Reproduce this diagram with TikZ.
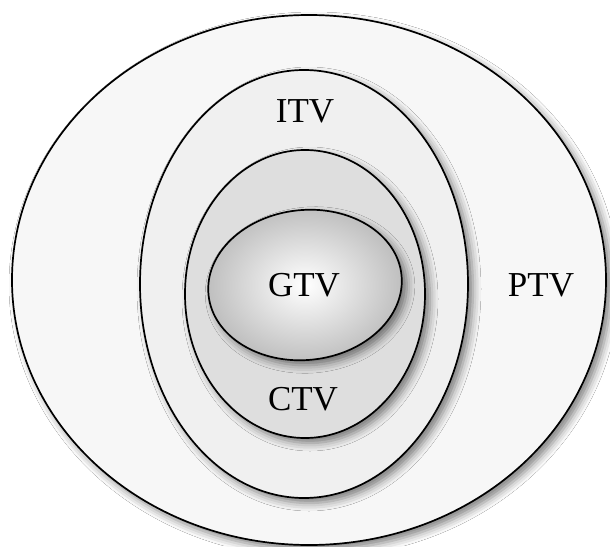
\documentclass[tikz,border=0pt]{standalone}
\usepackage{fontspec}
\setmainfont{Liberation Serif}
\usetikzlibrary{shapes.geometric,shadows.blur}
\begin{document}
\begin{tikzpicture}[x=1pt,y=-1pt,
  vol/.style={ellipse, draw=black, line width=1.7pt, inner sep=0pt, outer sep=0pt,
    blur shadow={shadow xshift=5pt, shadow yshift=-5pt, shadow blur radius=8pt, shadow opacity=50}},
  lbl/.style={font=\fontsize{35}{35}\selectfont, text=black, inner sep=0pt}]
\useasboundingbox (0,0) rectangle (610,546);
\fill[white] (0,0) rectangle (610,546);
\node[vol, fill=black!3, minimum width=594pt, minimum height=530pt] (ptv) at (309,280) {};
\node[vol, fill=black!6, minimum width=328pt, minimum height=428pt] (itv) at (304,284) {};
\node[vol, fill=black!13, minimum width=240pt, minimum height=288pt] (ctv) at (305,294) {};
\node[vol, shading=radial, inner color=white, outer color=black!26, rotate=6,
      minimum width=194pt, minimum height=150pt] (gtv) at (305,285) {};
\node[lbl] (itvlabel) at (305,111) {ITV};
\node[lbl] (gtvlabel) at (304,285) {GTV};
\node[lbl] (ctvlabel) at (303,399) {CTV};
\node[lbl] (ptvlabel) at (541,285) {PTV};
\end{tikzpicture}
\end{document}
